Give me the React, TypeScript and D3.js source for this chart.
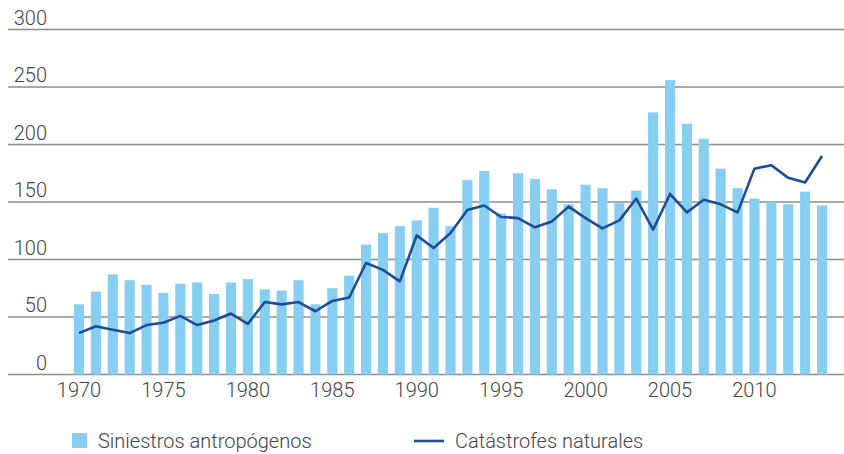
import * as d3 from 'd3';

// años 1970–2014
const years: number[] = d3.range(1970, 2015);

// Siniestros antropógenos (barras)
const manMade: number[] = [
  61, 72, 87, 82, 78, 71, 79, 80, 70, 80,
  83, 74, 73, 82, 61, 75, 86, 113, 123, 129,
  134, 145, 129, 169, 177, 140, 175, 170, 161, 148,
  165, 162, 149, 160, 228, 256, 218, 205, 179, 162,
  153, 150, 148, 159, 147,
];

// Catástrofes naturales (línea)
const natural: number[] = [
  36, 42, 39, 36, 43, 45, 51, 43, 47, 53,
  44, 63, 61, 63, 55, 64, 67, 97, 91, 81,
  121, 110, 123, 143, 147, 137, 136, 128, 133, 146,
  136, 127, 134, 153, 126, 157, 141, 152, 148, 141,
  179, 182, 171, 167, 190,
];

const yTicks = [0, 50, 100, 150, 200, 250, 300];
const xTicks = [1970, 1975, 1980, 1985, 1990, 1995, 2000, 2005, 2010];

const W = 844;
const H = 454;
const FONT = 'Roboto, "Liberation Sans", sans-serif';
const TEXT = '#444444';
const BAR = '#86cff2';
const LINE = '#1f4c96';
const GRID = '#8c8c8c';
const FS = 20;

export default function App() {
  const x = d3.scalePoint<number>().domain(years).range([79, 822]);
  const barW = x.step() * 0.6;
  const y = d3.scaleLinear().domain([0, 300]).range([374.5, 29.5]);

  const line = d3
    .line<number>()
    .x((_d, i) => x(years[i]) as number)
    .y((d) => y(d));

  return (
    <svg
      width={W}
      height={H}
      style={{ position: 'absolute', left: 0, top: 0, background: '#fff' }}
      fontFamily={FONT}
    >
      {yTicks.map((t) => (
        <g key={t}>
          <line x1={8} x2={W} y1={y(t)} y2={y(t)} stroke={GRID} strokeWidth={1.5} />
          <text
            x={47}
            y={y(t) - 5}
            textAnchor="end"
            fontSize={FS}
            fontWeight={300}
            fill={TEXT}
          >
            {t}
          </text>
        </g>
      ))}

      {manMade.map((v, i) => (
        <rect
          key={years[i]}
          x={(x(years[i]) as number) - barW / 2}
          y={y(v)}
          width={barW}
          height={y(0) - y(v)}
          fill={BAR}
        />
      ))}

      <path d={line(natural) ?? ''} fill="none" stroke={LINE} strokeWidth={2.6} strokeLinejoin="round" />

      {xTicks.map((t) => (
        <text
          key={t}
          x={x(t)}
          y={397}
          textAnchor="middle"
          fontSize={FS}
          fontWeight={300}
          fill={TEXT}
        >
          {t}
        </text>
      ))}

      <g>
        <rect x={72} y={433} width={15} height={15} fill={BAR} />
        <text x={98} y={448} fontSize={FS} fontWeight={300} fill={TEXT}>
          Siniestros antropógenos
        </text>
        <line x1={414} x2={444} y1={441} y2={441} stroke={LINE} strokeWidth={2.6} />
        <text x={455} y={448} fontSize={FS} fontWeight={300} fill={TEXT}>
          Catástrofes naturales
        </text>
      </g>
    </svg>
  );
}
